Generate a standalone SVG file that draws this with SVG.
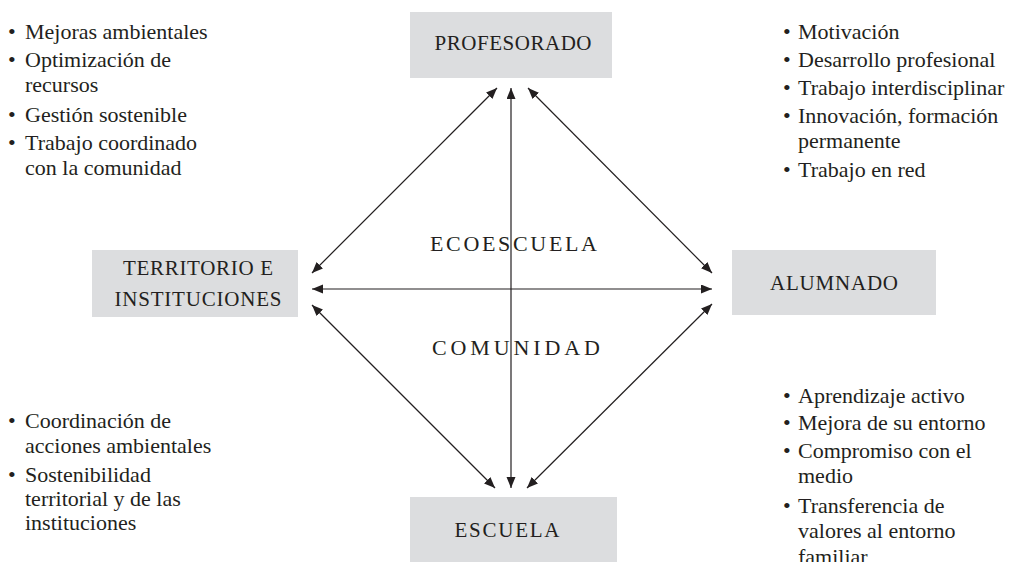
<svg xmlns="http://www.w3.org/2000/svg" width="1010" height="562" viewBox="0 0 1010 562">
<style>
.box{fill:#dcdddf}
.bt{font-family:"Liberation Serif","Times New Roman",serif;font-size:21px;fill:#231f20;text-anchor:middle}
.li{font-family:"Liberation Serif","Times New Roman",serif;font-size:22px;fill:#231f20}
.ct{font-family:"Liberation Serif","Times New Roman",serif;font-size:22px;fill:#231f20}
.cn{stroke:#231f20;stroke-width:1.2;fill:none;marker-start:url(#ah);marker-end:url(#ah)}
</style>
<defs>
<marker id="ah" markerUnits="userSpaceOnUse" markerWidth="12" markerHeight="10" refX="11" refY="4.5" orient="auto-start-reverse">
<path d="M0,0 L11,4.5 L0,9 z" fill="#231f20"/>
</marker>
</defs>
<rect width="1010" height="562" fill="#fff"/>
<g id="connectors">
<line class="cn" x1="312" y1="273" x2="497" y2="88"/>
<line class="cn" x1="528" y1="88" x2="712" y2="273"/>
<line class="cn" x1="312" y1="305" x2="495" y2="488"/>
<line class="cn" x1="712" y1="304" x2="527" y2="488"/>
<line class="cn" x1="312" y1="289" x2="712" y2="289"/>
<line class="cn" x1="511" y1="88" x2="511" y2="488"/>
</g>
<g id="profesorado">
<rect class="box" x="410" y="12" width="202" height="66"/>
<text class="bt" x="513" y="50" textLength="157" lengthAdjust="spacing">PROFESORADO</text>
</g>
<g id="territorio">
<rect class="box" x="92" y="250" width="206" height="67"/>
<text class="bt" x="198" y="275" textLength="150" lengthAdjust="spacing">TERRITORIO E</text>
<text class="bt" x="198" y="306" textLength="167" lengthAdjust="spacing">INSTITUCIONES</text>
</g>
<g id="alumnado">
<rect class="box" x="732" y="250" width="204" height="65"/>
<text class="bt" x="834" y="290" textLength="128" lengthAdjust="spacing">ALUMNADO</text>
</g>
<g id="escuela">
<rect class="box" x="410" y="497" width="207" height="70"/>
<text class="bt" x="507" y="537" textLength="105" lengthAdjust="spacing">ESCUELA</text>
</g>
<g id="centro">
<text class="ct" x="430" y="251" textLength="167" lengthAdjust="spacing">ECOESCUELA</text>
<text class="ct" x="432" y="355" textLength="168" lengthAdjust="spacing">COMUNIDAD</text>
</g>
<g id="lista-territorio-arriba" class="li">
<text x="8" y="39">•</text><text x="25" y="39">Mejoras ambientales</text>
<text x="8" y="67">•</text><text x="25" y="67">Optimización de</text>
<text x="25" y="92">recursos</text>
<text x="8" y="122">•</text><text x="25" y="122">Gestión sostenible</text>
<text x="8" y="150">•</text><text x="25" y="150">Trabajo coordinado</text>
<text x="25" y="175">con la comunidad</text>
</g>
<g id="lista-profesorado" class="li">
<text x="783" y="39">•</text><text x="798" y="39">Motivación</text>
<text x="783" y="67">•</text><text x="798" y="67">Desarrollo profesional</text>
<text x="783" y="95">•</text><text x="798" y="95">Trabajo interdisciplinar</text>
<text x="783" y="123">•</text><text x="798" y="123">Innovación, formación</text>
<text x="798" y="148">permanente</text>
<text x="783" y="177">•</text><text x="798" y="177">Trabajo en red</text>
</g>
<g id="lista-territorio-abajo" class="li">
<text x="8" y="428">•</text><text x="25" y="428">Coordinación de</text>
<text x="25" y="453">acciones ambientales</text>
<text x="8" y="482">•</text><text x="25" y="482">Sostenibilidad</text>
<text x="25" y="506">territorial y de las</text>
<text x="25" y="530">instituciones</text>
</g>
<g id="lista-alumnado" class="li">
<text x="783" y="403">•</text><text x="798" y="403">Aprendizaje activo</text>
<text x="783" y="430">•</text><text x="798" y="430">Mejora de su entorno</text>
<text x="783" y="458">•</text><text x="798" y="458">Compromiso con el</text>
<text x="798" y="483">medio</text>
<text x="783" y="513">•</text><text x="798" y="513">Transferencia de</text>
<text x="798" y="538">valores al entorno</text>
<text x="798" y="564">familiar</text>
</g>
</svg>
